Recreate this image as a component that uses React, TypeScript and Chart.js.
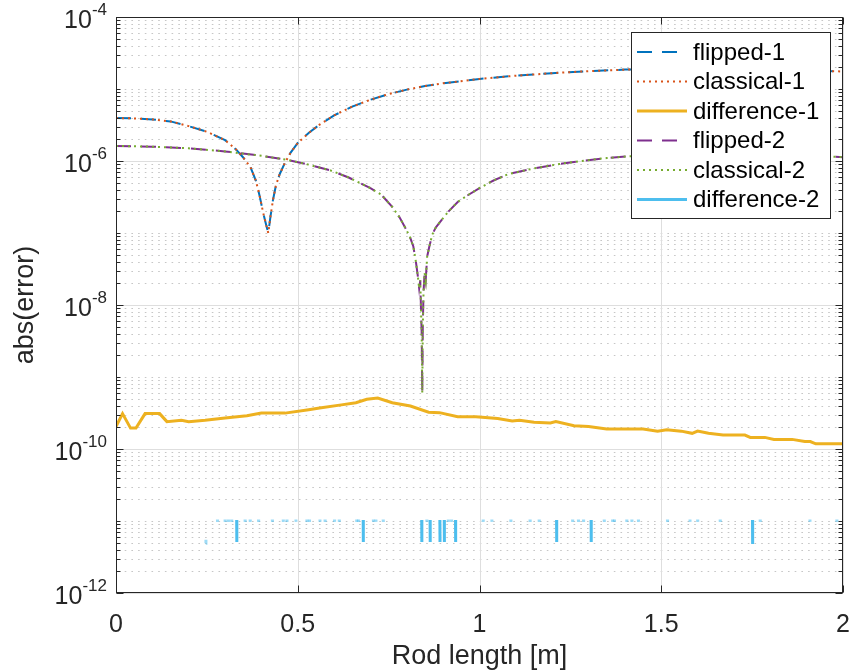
import React, { useEffect, useRef } from 'react';
import { Chart, registerables } from 'chart.js';

Chart.register(...registerables);

// ---------- data ----------
const curve1X = [0, 0.05, 0.1, 0.15, 0.2, 0.25, 0.3, 0.33, 0.35, 0.37, 0.385, 0.395, 0.405, 0.413, 0.419, 0.425, 0.432, 0.44, 0.45, 0.465, 0.48, 0.5, 0.53, 0.56, 0.6, 0.65, 0.7, 0.75, 0.8, 0.85, 0.9, 1.0, 1.1, 1.2, 1.3, 1.4, 1.5, 1.6, 1.7, 1.8, 1.9, 2.0];
const flipped1Y = [3.95e-6, 3.9e-6, 3.78e-6, 3.55e-6, 3.05e-6, 2.55e-6, 1.95e-6, 1.45e-6, 1.12e-6, 8.2e-7, 5.3e-7, 3.3e-7, 1.9e-7, 1.3e-7, 1.0e-7, 1.7e-7, 2.9e-7, 4.6e-7, 6.5e-7, 9.5e-7, 1.3e-6, 1.78e-6, 2.45e-6, 3.2e-6, 4.3e-6, 5.7e-6, 7.1e-6, 8.5e-6, 9.8e-6, 1.1e-5, 1.2e-5, 1.38e-5, 1.53e-5, 1.66e-5, 1.77e-5, 1.86e-5, 1.9e-5, 1.92e-5, 1.91e-5, 1.87e-5, 1.81e-5, 1.75e-5];
const classical1Y = [3.95e-6, 3.9e-6, 3.78e-6, 3.55e-6, 3.05e-6, 2.55e-6, 1.95e-6, 1.45e-6, 1.12e-6, 8.2e-7, 5.3e-7, 3.3e-7, 1.9e-7, 1.3e-7, 1.0e-7, 1.7e-7, 2.9e-7, 4.6e-7, 6.5e-7, 9.5e-7, 1.3e-6, 1.78e-6, 2.45e-6, 3.2e-6, 4.3e-6, 5.7e-6, 7.1e-6, 8.5e-6, 9.8e-6, 1.1e-5, 1.2e-5, 1.38e-5, 1.53e-5, 1.66e-5, 1.77e-5, 1.86e-5, 1.9e-5, 1.92e-5, 1.91e-5, 1.87e-5, 1.81e-5, 1.75e-5];

const curve2X = [0, 0.1, 0.2, 0.3, 0.4, 0.47, 0.53, 0.59, 0.64, 0.7, 0.73, 0.76, 0.78, 0.795, 0.808, 0.818, 0.825, 0.83, 0.834, 0.837, 0.839, 0.841, 0.8425, 0.844, 0.846, 0.849, 0.852, 0.856, 0.862, 0.87, 0.88, 0.895, 0.915, 0.94, 0.97, 1.0, 1.04, 1.08, 1.15, 1.22, 1.28, 1.35, 1.41, 1.5, 1.6, 1.7, 1.8, 1.9, 2.0];
const flipped2Y = [1.62e-6, 1.58e-6, 1.5e-6, 1.36e-6, 1.18e-6, 1.04e-6, 8.9e-7, 7.4e-7, 5.9e-7, 4.2e-7, 3.4e-7, 2.3e-7, 1.65e-7, 1.2e-7, 9e-8, 6.5e-8, 4e-8, 2.6e-8, 1.7e-8, 2.2e-8, 9e-9, 4e-9, 6e-10, 5e-9, 1.5e-8, 2.8e-8, 2.2e-8, 4.7e-8, 6.5e-8, 9.5e-8, 1.2e-7, 1.5e-7, 2.0e-7, 2.7e-7, 3.4e-7, 4.2e-7, 5.4e-7, 6.6e-7, 7.9e-7, 9.1e-7, 1.0e-6, 1.1e-6, 1.16e-6, 1.22e-6, 1.26e-6, 1.27e-6, 1.25e-6, 1.2e-6, 1.13e-6];
const classical2Y = [1.62e-6, 1.58e-6, 1.5e-6, 1.36e-6, 1.18e-6, 1.04e-6, 8.9e-7, 7.4e-7, 5.9e-7, 4.2e-7, 3.4e-7, 2.3e-7, 1.65e-7, 1.2e-7, 9e-8, 6.5e-8, 4e-8, 2.6e-8, 1.7e-8, 2.2e-8, 9e-9, 4e-9, 6e-10, 5e-9, 1.5e-8, 2.8e-8, 2.2e-8, 4.7e-8, 6.5e-8, 9.5e-8, 1.2e-7, 1.5e-7, 2.0e-7, 2.7e-7, 3.4e-7, 4.2e-7, 5.4e-7, 6.6e-7, 7.9e-7, 9.1e-7, 1.0e-6, 1.1e-6, 1.16e-6, 1.22e-6, 1.26e-6, 1.27e-6, 1.25e-6, 1.2e-6, 1.13e-6];

const diff1X = [0, 0.018, 0.04, 0.055, 0.08, 0.12, 0.14, 0.18, 0.2, 0.245, 0.3, 0.36, 0.4, 0.465, 0.53, 0.56, 0.62, 0.66, 0.69, 0.72, 0.76, 0.81, 0.86, 0.89, 0.94, 0.99, 1.05, 1.09, 1.11, 1.15, 1.195, 1.21, 1.26, 1.3, 1.35, 1.45, 1.49, 1.515, 1.555, 1.585, 1.6, 1.63, 1.67, 1.73, 1.745, 1.785, 1.81, 1.86, 1.895, 1.91, 1.925, 2.0];
const diff1Y = [2.05e-10, 3.1e-10, 1.95e-10, 1.95e-10, 3.1e-10, 3.1e-10, 2.4e-10, 2.5e-10, 2.4e-10, 2.5e-10, 2.7e-10, 2.9e-10, 3.15e-10, 3.15e-10, 3.5e-10, 3.7e-10, 4.1e-10, 4.4e-10, 4.9e-10, 5.1e-10, 4.4e-10, 3.95e-10, 3.25e-10, 3.2e-10, 2.8e-10, 2.8e-10, 2.65e-10, 2.45e-10, 2.5e-10, 2.35e-10, 2.3e-10, 2.4e-10, 2.1e-10, 2.05e-10, 1.9e-10, 1.9e-10, 1.77e-10, 1.85e-10, 1.77e-10, 1.65e-10, 1.77e-10, 1.65e-10, 1.56e-10, 1.56e-10, 1.45e-10, 1.45e-10, 1.36e-10, 1.36e-10, 1.27e-10, 1.27e-10, 1.18e-10, 1.18e-10];

// difference-2: isolated spikes and short pieces
const diff2BarX = [0.332, 0.68, 0.841, 0.864, 0.891, 0.903, 0.934, 1.212, 1.307, 1.751];
const diff2BarTop = [1.03e-11, 1.03e-11, 1.03e-11, 1.03e-11, 1.03e-11, 1.03e-11, 1.03e-11, 1.03e-11, 1.03e-11, 1.03e-11];
const diff2BarLow = [5.1e-12, 5.1e-12, 5.1e-12, 5.1e-12, 5.1e-12, 5.1e-12, 5.1e-12, 5.1e-12, 5.1e-12, 4.8e-12];
const diff2MarkX = [0.279, 0.3, 0.309, 0.318, 0.355, 0.369, 0.392, 0.43, 0.46, 0.47, 0.495, 0.525, 0.532, 0.561, 0.575, 0.601, 0.614, 0.662, 0.667, 0.708, 0.715, 0.735, 0.855, 0.914, 0.923, 1.01, 1.034, 1.086, 1.139, 1.164, 1.256, 1.272, 1.286, 1.343, 1.366, 1.371, 1.405, 1.419, 1.437, 1.517, 1.579, 1.6, 1.662, 1.772, 1.909, 1.983];
const diff2MarkHigh = 1.05e-11;
const diff2MarkLow = 9.7e-12;
const diff2LoneX = [0.247];
const diff2LoneY = [[4.9e-12, 5.5e-12]];

const xTicks = [0, 0.5, 1, 1.5, 2];
const xTickLabels = ['0', '0.5', '1', '1.5', '2'];
const yMajorExp = [-12, -10, -8, -6, -4];
const yTickLabels = ['-12', '-10', '-8', '-6', '-4'];

const seriesNames = ['flipped-1', 'classical-1', 'difference-1', 'flipped-2', 'classical-2', 'difference-2'];
const seriesColors = ['#0072BD', '#D95319', '#EDB120', '#7E2F8E', '#77AC30', '#4DBEEE'];

const FONT = '"Liberation Sans", Arial, Helvetica, sans-serif';
const DASH = [15, 10];
const DOT = [2, 4];

const styles = [
  { dash: DASH, width: 2 },
  { dash: DOT, width: 2 },
  { dash: [] as number[], width: 3 },
  { dash: DASH, width: 2 },
  { dash: DOT, width: 2 },
  { dash: [] as number[], width: 3 },
];

function zip(xs: number[], ys: number[]) {
  return xs.map((x, i) => ({ x, y: ys[i] }));
}

function buildDiff2() {
  const pts: { x: number; y: number | null; mark?: boolean }[] = [];
  diff2BarX.forEach((x, i) => {
    pts.push({ x, y: diff2BarTop[i] }, { x: x + 0.0004, y: diff2BarLow[i] }, { x: x + 0.0006, y: null });
  });
  diff2MarkX.forEach((x) => {
    pts.push({ x, y: diff2MarkHigh, mark: true }, { x: x + 0.0004, y: diff2MarkLow, mark: true }, { x: x + 0.0006, y: null });
  });
  diff2LoneX.forEach((x, i) => {
    pts.push({ x, y: diff2LoneY[i][0], mark: true }, { x: x + 0.0004, y: diff2LoneY[i][1], mark: true }, { x: x + 0.0006, y: null });
  });
  return pts;
}

export default function App() {
  const ref = useRef<HTMLCanvasElement | null>(null);

  useEffect(() => {
    const canvas = ref.current;
    if (!canvas) return;

    const diff2 = buildDiff2();
    const seriesData = [
      zip(curve1X, flipped1Y),
      zip(curve1X, classical1Y),
      zip(diff1X, diff1Y),
      zip(curve2X, flipped2Y),
      zip(curve2X, classical2Y),
      diff2,
    ];

    const matlabPlugin = {
      id: 'matlabDeco',
      beforeDatasetsDraw(chart: any) {
        const { ctx, chartArea: a, scales } = chart;
        const ys = scales.y;
        const xs = scales.x;
        ctx.save();
        // minor dotted grid
        ctx.strokeStyle = '#c6c6c6';
        ctx.lineWidth = 1;
        ctx.setLineDash([1.6, 5.1]);
        for (let k = -12; k <= -5; k++) {
          for (let m = 1; m <= 9; m++) {
            if (m === 1 && k % 2 === 0) continue;
            const y = Math.round(ys.getPixelForValue(m * Math.pow(10, k))) + 0.5;
            ctx.beginPath();
            ctx.moveTo(a.left + 2, y);
            ctx.lineTo(a.right, y);
            ctx.stroke();
          }
        }
        ctx.setLineDash([]);
        ctx.strokeStyle = '#dedede';
        yMajorExp.forEach((e) => {
          const y = Math.round(ys.getPixelForValue(Math.pow(10, e))) + 0.5;
          ctx.beginPath();
          ctx.moveTo(a.left, y);
          ctx.lineTo(a.right, y);
          ctx.stroke();
        });
        xTicks.forEach((t) => {
          const x = Math.round(xs.getPixelForValue(t)) + 0.5;
          ctx.beginPath();
          ctx.moveTo(x, a.top);
          ctx.lineTo(x, a.bottom);
          ctx.stroke();
        });
        ctx.restore();
      },
      afterDatasetsDraw(chart: any) {
        const { ctx, chartArea: a, scales } = chart;
        const ys = scales.y;
        const xs = scales.x;
        ctx.save();
        const axisColor = '#262626';
        ctx.strokeStyle = axisColor;
        ctx.lineWidth = 1;
        ctx.setLineDash([]);
        const L = Math.round(a.left) + 0.5;
        const R = Math.round(a.right) - 0.5;
        const T = Math.round(a.top) + 0.5;
        const B = Math.round(a.bottom) - 0.5;
        ctx.strokeRect(L, T, R - L, B - T);
        // y ticks
        for (let k = -12; k <= -4; k++) {
          for (let m = 1; m <= 9; m++) {
            if (k === -4 && m > 1) break;
            const v = m * Math.pow(10, k);
            const y = Math.round(ys.getPixelForValue(v)) + 0.5;
            const major = m === 1 && k % 2 === 0;
            const len = major ? 7 : 4;
            ctx.beginPath();
            ctx.moveTo(L, y);
            ctx.lineTo(L + len, y);
            ctx.moveTo(R, y);
            ctx.lineTo(R - len, y);
            ctx.stroke();
          }
        }
        // x ticks
        xTicks.forEach((t) => {
          const x = Math.round(xs.getPixelForValue(t)) + 0.5;
          ctx.beginPath();
          ctx.moveTo(x, B);
          ctx.lineTo(x, B - 7);
          ctx.moveTo(x, T);
          ctx.lineTo(x, T + 7);
          ctx.stroke();
        });

        // tick labels
        ctx.fillStyle = axisColor;
        ctx.textBaseline = 'alphabetic';
        ctx.font = `25px ${FONT}`;
        ctx.textAlign = 'center';
        xTicks.forEach((t, i) => {
          const x = xs.getPixelForValue(t);
          ctx.fillText(xTickLabels[i], x, 632);
        });
        yMajorExp.forEach((e, i) => {
          const y = ys.getPixelForValue(Math.pow(10, e));
          ctx.font = `25px ${FONT}`;
          const bw = ctx.measureText('10').width;
          ctx.font = `17px ${FONT}`;
          const ew = ctx.measureText(yTickLabels[i]).width;
          const right = 107;
          const x0 = right - ew - bw;
          ctx.textAlign = 'left';
          ctx.font = `25px ${FONT}`;
          ctx.fillText('10', x0, y + 11);
          ctx.font = `17px ${FONT}`;
          ctx.fillText(yTickLabels[i], x0 + bw, y - 2);
        });

        // axis titles
        ctx.font = `27px ${FONT}`;
        ctx.textAlign = 'center';
        ctx.fillText('Rod length [m]', (a.left + a.right) / 2, 664);
        ctx.save();
        ctx.translate(33, (a.top + a.bottom) / 2);
        ctx.rotate(-Math.PI / 2);
        ctx.textBaseline = 'alphabetic';
        ctx.fillText('abs(error)', 0, 0);
        ctx.restore();

        // legend
        const lx = 631.5, ly = 32.5, lw = 199, lh = 186;
        ctx.fillStyle = '#ffffff';
        ctx.fillRect(lx, ly, lw, lh);
        ctx.strokeStyle = axisColor;
        ctx.lineWidth = 1;
        ctx.strokeRect(lx, ly, lw, lh);
        seriesNames.forEach((name, i) => {
          const y = 52 + 29.5 * i;
          ctx.strokeStyle = seriesColors[i];
          ctx.lineWidth = styles[i].width;
          ctx.setLineDash(styles[i].dash);
          ctx.lineDashOffset = 0;
          ctx.beginPath();
          ctx.moveTo(637, y);
          ctx.lineTo(687, y);
          ctx.stroke();
          ctx.setLineDash([]);
          ctx.fillStyle = '#000000';
          ctx.font = `24px ${FONT}`;
          ctx.textAlign = 'left';
          ctx.textBaseline = 'middle';
          ctx.fillText(name, 693, y + 1);
        });
        ctx.restore();
      },
    };

    const chart = new Chart(canvas, {
      type: 'line',
      data: {
        datasets: seriesData.map((d, i) => ({
          label: seriesNames[i],
          data: d as any,
          borderColor: seriesColors[i],
          backgroundColor: seriesColors[i],
          borderWidth: styles[i].width,
          borderDash: styles[i].dash,
          pointRadius: 0,
          pointHoverRadius: 0,
          tension: 0,
          fill: false,
          spanGaps: false,
          order: 5 - i,
          borderCapStyle: 'butt',
          borderJoinStyle: 'miter',
          segment:
            i === 5
              ? {
                  borderColor: (ctx: any) => {
                    const raw = diff2[ctx.p0DataIndex];
                    return raw && raw.mark ? 'rgba(77,190,238,0.55)' : '#4DBEEE';
                  },
                }
              : undefined,
        })),
      },
      options: {
        animation: false,
        responsive: false,
        devicePixelRatio: 1,
        layout: { padding: { top: 17, right: 6, left: 0, bottom: 0 } },
        plugins: { legend: { display: false }, tooltip: { enabled: false } },
        events: [],
        scales: {
          x: {
            type: 'linear',
            min: 0,
            max: 2,
            grid: { display: false },
            border: { display: false },
            ticks: { display: false },
            afterFit: (s: any) => {
              s.height = 77;
            },
          },
          y: {
            type: 'logarithmic',
            min: 1e-12,
            max: 1e-4,
            grid: { display: false },
            border: { display: false },
            ticks: { display: false },
            afterFit: (s: any) => {
              s.width = 116;
            },
          },
        },
      } as any,
      plugins: [matlabPlugin],
    });

    return () => chart.destroy();
  }, []);

  return (
    <div style={{ position: 'absolute', left: 0, top: 0, width: 849, height: 670, background: '#ffffff' }}>
      <canvas ref={ref} width={849} height={670} style={{ display: 'block' }} />
    </div>
  );
}
